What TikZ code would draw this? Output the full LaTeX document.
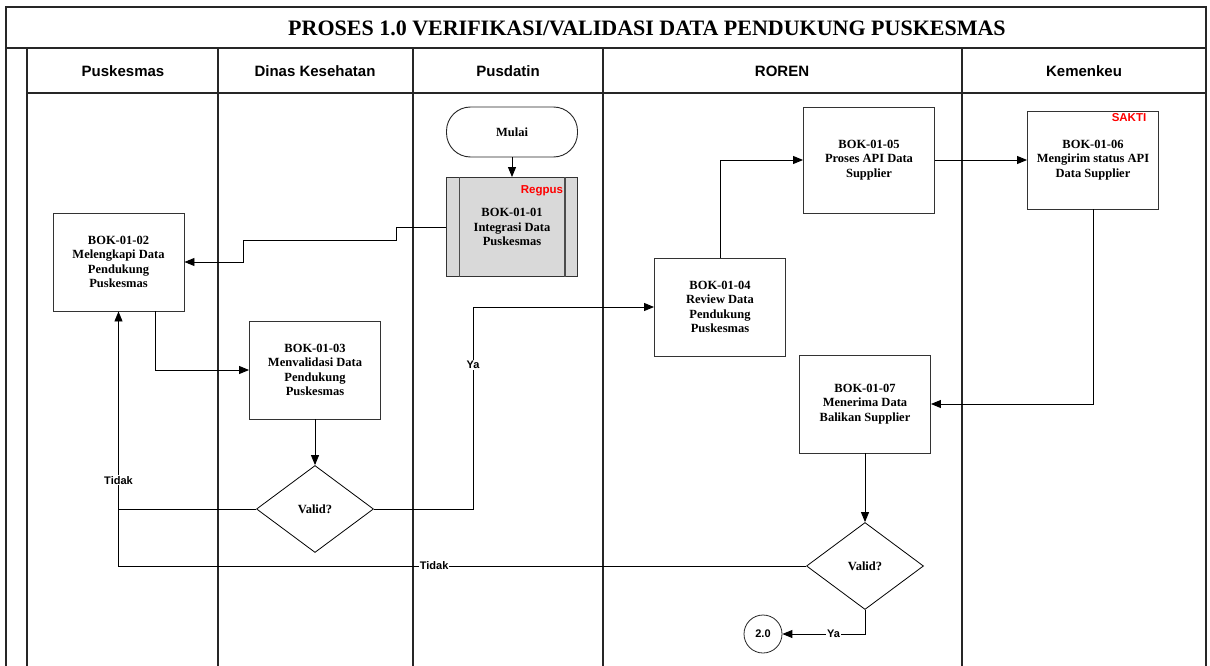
\documentclass[tikz,border=0pt]{standalone}
\usepackage{fontspec}
\setmainfont{Liberation Serif}
\setsansfont{Liberation Sans}
\usetikzlibrary{arrows.meta,shapes.geometric}
\definecolor{boxgray}{HTML}{D9D9D9}
\definecolor{redlbl}{HTML}{FF0000}
\tikzset{
  frame/.style={line width=1.4pt, draw=black!85},
  proc/.style={draw=black!80, line width=0.9pt, minimum width=131pt, minimum height=98pt, inner sep=0pt, align=center,
    font=\fontsize{12.5}{14.5}\selectfont\bfseries},
  dec/.style={diamond, draw=black, line width=0.8pt, minimum width=117pt, minimum height=87pt, inner sep=0pt,
    font=\fontsize{12.5}{14}\selectfont\bfseries},
  term/.style={draw=black!85, line width=0.9pt, rounded corners=24pt, minimum width=131pt, minimum height=50pt, inner sep=0pt,
    font=\fontsize{12.5}{14}\selectfont\bfseries},
  conn/.style={circle, draw=black!85, line width=0.8pt, minimum size=38pt, inner sep=0pt,
    font=\sffamily\bfseries\fontsize{11}{13}\selectfont},
  head/.style={font=\sffamily\bfseries\fontsize{15}{18}\selectfont},
  lbl/.style={fill=white, inner sep=1pt, font=\sffamily\bfseries\fontsize{11}{13}\selectfont},
  tag/.style={text=redlbl, inner sep=0pt, font=\sffamily\bfseries\fontsize{11.5}{13}\selectfont},
  arr/.style={draw=black, line width=0.9pt, -{Triangle[length=10pt,width=8pt]}},
  line/.style={draw=black, line width=0.9pt},
}
\begin{document}
\begin{tikzpicture}[x=1pt,y=-1pt]
\useasboundingbox (0,0) rectangle (1210,666);
% frame
\draw[frame] (6,666) -- (6,7) -- (1206,7) -- (1206,666);
\draw[frame] (6,48) -- (1206,48);
\draw[frame] (27,93) -- (1206,93);
\foreach \x in {27,218,413,603,962} \draw[frame] (\x,48) -- (\x,666);
% title and headers
\node[font=\bfseries\fontsize{22}{24}\selectfont] (title) at (647,28) {PROSES 1.0 VERIFIKASI/VALIDASI DATA PENDUKUNG PUSKESMAS};
\node[head] (h1) at (123,71) {Puskesmas};
\node[head] (h2) at (315,71) {Dinas Kesehatan};
\node[head] (h3) at (508,71) {Pusdatin};
\node[head] (h4) at (782,71) {ROREN};
\node[head] (h5) at (1084,71) {Kemenkeu};
% nodes
\node[term] (mulai) at (512,132) {Mulai};
\node[proc, fill=boxgray, minimum height=99pt] (b01) at (512,227) {BOK-01-01\\Integrasi Data\\Puskesmas};
\draw[draw=black!70, line width=1.1pt] ([xshift=13pt]b01.north west) -- ([xshift=13pt]b01.south west);
\draw[draw=black!70, line width=1.1pt] ([xshift=-13pt]b01.north east) -- ([xshift=-13pt]b01.south east);
\node[tag] (regpus) at (542,191) {Regpus};
\node[proc] (b02) at (118.5,262) {BOK-01-02\\Melengkapi Data\\Pendukung\\Puskesmas};
\node[proc] (b03) at (315,370) {BOK-01-03\\Menvalidasi Data\\Pendukung\\Puskesmas};
\node[dec] (d1) at (315,509) {Valid?};
\node[proc] (b04) at (720,307) {BOK-01-04\\Review Data\\Pendukung\\Puskesmas};
\node[proc, minimum height=106pt] (b05) at (869,160) {BOK-01-05\\Proses API Data\\Supplier};
\node[proc] (b06) at (1093,160) {BOK-01-06\\Mengirim status API\\Data Supplier};
\node[tag] (sakti) at (1129,118) {SAKTI};
\node[proc] (b07) at (865,404) {BOK-01-07\\Menerima Data\\Balikan Supplier};
\node[dec] (d2) at (865,566) {Valid?};
\node[conn] (c20) at (763,634) {2.0};
\coordinate (j1) at (118.5,566);
\coordinate (j2) at (118.5,509);
% connectors
\draw[arr] (mulai) -- (b01);
\draw[arr] (b01.west) -- (396,227) -- (396,240) -- (243,240) -- (243,262) -- (b02.east);
\draw[arr] ([xshift=37pt]b02.south) |- (b03.west);
\draw[arr] (b03) -- (d1);
\draw[arr] (d1.west) -| node[lbl, pos=0.573]{Tidak} (b02.south);
\draw[arr] (d1.east) -- (473,509) |- node[lbl, pos=0.356]{Ya} (b04.west);
\draw[arr] (b04.north) |- (b05.west);
\draw[arr] (b05) -- (b06);
\draw[arr] (b06.south) |- (b07.east);
\draw[arr] (b07) -- (d2);
\draw[line] (d2.west) -- node[lbl, pos=0.541]{Tidak} (j1) -- (j2);
\draw[arr] (d2.south) |- node[lbl, pos=0.69]{Ya} (c20);
\end{tikzpicture}
\end{document}
